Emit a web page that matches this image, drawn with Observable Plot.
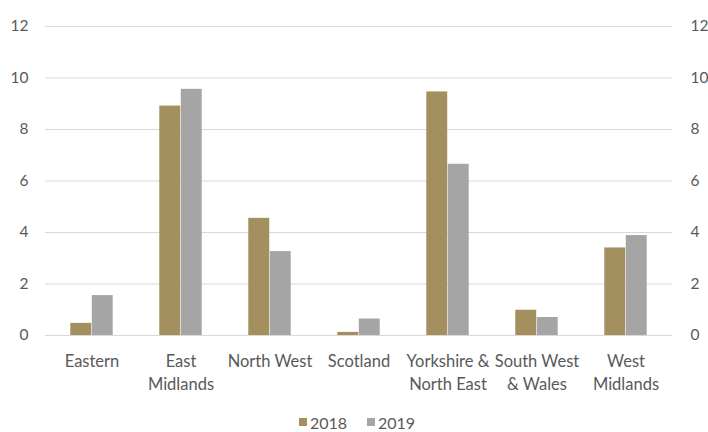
<!DOCTYPE html>
<html>
<head>
<meta charset="utf-8">
<script src="https://cdn.jsdelivr.net/npm/d3@7"></script>
<script src="https://cdn.jsdelivr.net/npm/@observablehq/plot@0.6"></script>
<style>
  html, body { margin: 0; padding: 0; background: #fff; }
  body { width: 708px; height: 432px; overflow: hidden; font-family: Lato, "Open Sans", sans-serif; }
  #legend { display: flex; justify-content: center; align-items: center; gap: 20px; height: 20px; font-size: 16px; color: #595959; margin-left: 6px; }
  #legend span.item { display: flex; align-items: center; gap: 3px; }
  #legend span.sw { display: inline-block; width: 8px; height: 8px; }
</style>
</head>
<body>
<div id="chart"></div>
<div id="legend"></div>
<script>
const regions = ["Eastern", "East\nMidlands", "North West", "Scotland", "Yorkshire &\nNorth East", "South West\n& Wales", "West\nMidlands"];
const values2018 = [0.47, 8.91, 4.55, 0.12, 9.46, 0.98, 3.40];
const values2019 = [1.55, 9.56, 3.26, 0.64, 6.65, 0.70, 3.88];
const years = ["2018", "2019"];
const colors = ["#a48f5e", "#a5a5a5"];
const yTicks = [0, 2, 4, 6, 8, 10, 12];

const data2018 = regions.map((r, i) => ({region: r, value: values2018[i]}));
const data2019 = regions.map((r, i) => ({region: r, value: values2019[i]}));

const W = 708, ML = 45, MR = 36;
const step = (W - ML - MR) / regions.length;
const barW = step * 0.24;
const half = step / 2;
const textColor = "#595959";

const chart = Plot.plot({
  width: W,
  height: 412,
  marginLeft: ML,
  marginRight: MR,
  marginTop: 26,
  marginBottom: 77,
  style: {fontFamily: "Lato, 'Open Sans', sans-serif", fontSize: "15px", color: textColor, background: "#fff"},
  x: {domain: regions, padding: 0, label: null},
  y: {domain: [0, 12], label: null},
  marks: [
    Plot.gridY(yTicks, {stroke: "#d9d9d9", strokeOpacity: 1}),
    Plot.ruleY([0], {stroke: "#d9d9d9"}),
    Plot.barY(data2018, {x: "region", y: "value", fill: colors[0], insetLeft: half - barW, insetRight: half}),
    Plot.barY(data2019, {x: "region", y: "value", fill: colors[1], insetLeft: half, insetRight: half - barW}),
    Plot.axisY(yTicks, {anchor: "left", tickSize: 0, tickPadding: 17, label: null, fill: textColor, fontSize: 15.5}),
    Plot.axisY(yTicks, {anchor: "right", tickSize: 0, tickPadding: 18, label: null, fill: textColor, fontSize: 15.5}),
    Plot.axisX({tickSize: 0, tickPadding: 15, label: null, fill: textColor, fontSize: 16.5, lineHeight: 1.39})
  ]
});
document.getElementById("chart").appendChild(chart);

const legend = document.getElementById("legend");
years.forEach((y, i) => {
  const item = document.createElement("span");
  item.className = "item";
  const sw = document.createElement("span");
  sw.className = "sw";
  sw.style.background = colors[i];
  const t = document.createElement("span");
  t.textContent = y;
  item.appendChild(sw);
  item.appendChild(t);
  legend.appendChild(item);
});
</script>
</body>
</html>
